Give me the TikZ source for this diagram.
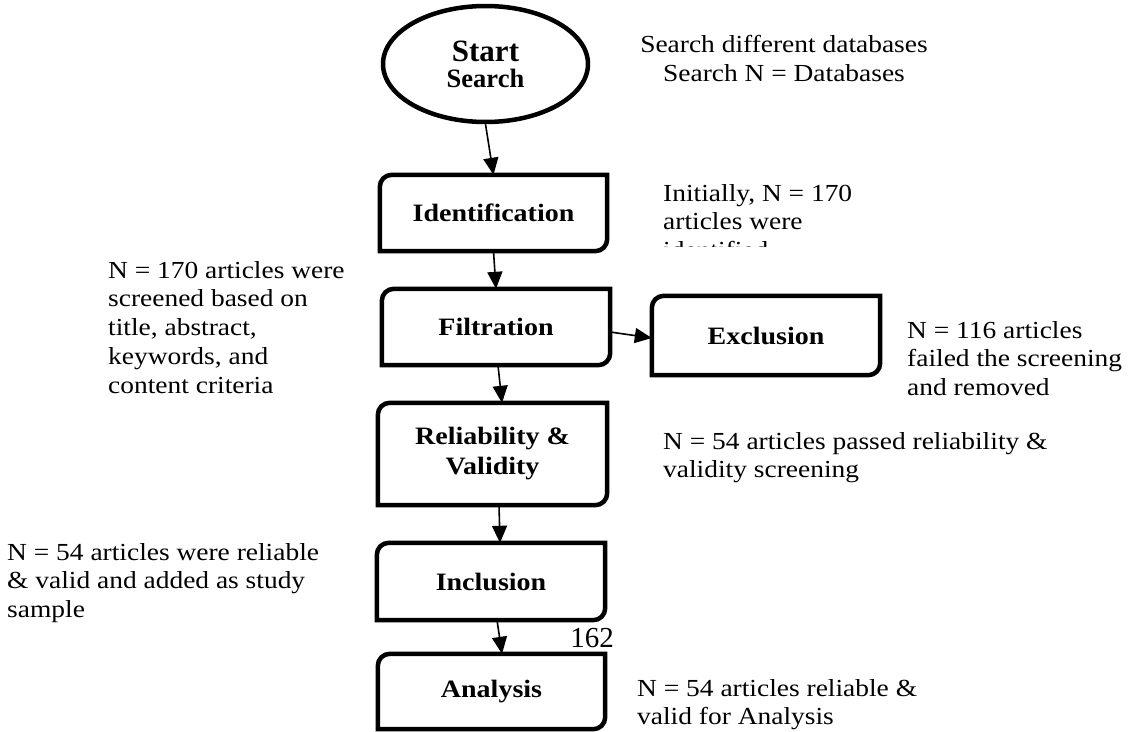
\documentclass[tikz,border=0pt]{standalone}
\usepackage{fontspec}
\setmainfont{Liberation Serif}
\newfontfamily\notefam[FakeStretch=1.12]{Liberation Serif}
\newfontfamily\timesfam{Liberation Serif}
\usetikzlibrary{arrows.meta,shapes.geometric}

\tikzset{
  boxline/.style={line width=4.5pt, line join=miter},
  stepbox/.style={rectangle, inner sep=0pt, align=center,
    font=\notefam\bfseries\fontsize{25}{30}\selectfont},
  note/.style={anchor=north west, inner sep=0pt, align=left,
    font=\notefam\fontsize{24.5}{28.7}\selectfont},
  conn/.style={line width=1.6pt, -{Triangle[length=17pt,width=15pt]}},
}
\newcommand\rdframe[1]{%
  \draw[boxline] (#1.north east) -- ([yshift=12pt]#1.south east)
    arc[start angle=0,end angle=-90,radius=12pt] -- (#1.south west)
    -- ([yshift=-12pt]#1.north west)
    arc[start angle=180,end angle=90,radius=12pt] -- cycle;}

\begin{document}
\begin{tikzpicture}[x=1pt,y=1pt]
\useasboundingbox (0,0) rectangle (1132,-731);

% start ellipse
\node[ellipse, draw, line width=4.5pt, minimum width=205pt, minimum height=116pt,
  inner sep=0pt, align=center, font=\timesfam\bfseries\fontsize{26.5}{26}\selectfont]
  (start) at (485.5,-64)
  {{\fontsize{31}{26}\selectfont Start}\\Search};

% process boxes
\node[stepbox, minimum width=227pt, minimum height=76pt]  (ident) at (493.5,-213) {Identification};
\node[stepbox, minimum width=228pt, minimum height=76pt]  (filt)  at (496,-327)   {Filtration};
\node[stepbox, minimum width=228pt, minimum height=79pt]  (excl)  at (766,-335.5) {Exclusion};
\node[stepbox, minimum width=229pt, minimum height=102pt] (rel)   at (492.5,-454) {Reliability \&\\Validity};
\node[stepbox, minimum width=228pt, minimum height=77pt]  (incl)  at (491,-581.5) {Inclusion};
\node[stepbox, minimum width=227pt, minimum height=75pt]  (anal)  at (491.5,-691.5) {Analysis};
\rdframe{ident}
\rdframe{filt}
\rdframe{excl}
\rdframe{rel}
\rdframe{incl}
\rdframe{anal}

% connectors
\draw[conn] (start.south) -- (ident.north);
\draw[conn] (ident.south) -- (filt.north);
\draw[conn] ([yshift=-5pt]filt.east) -- ([yshift=-2.5pt]excl.west);
\draw[conn] ([xshift=2pt]filt.south) -- ([xshift=9.5pt]rel.north);
\draw[conn] ([xshift=6.5pt]rel.south) -- ([xshift=9pt]incl.north);
\draw[conn] ([xshift=6pt]incl.south) -- ([xshift=10.5pt]anal.north);

% page number
\node[inner sep=0pt, font=\timesfam\fontsize{29}{30}\selectfont] (pg) at (592,-638) {162};

% notes
\node[note, anchor=north, align=center] (nsearch) at (784,-35)
  {Search different databases\\Search N = Databases};
\begin{scope}
  \clip (600,-170) rectangle (1000,-246);
  \node[note] (nident) at (663,-184) {Initially, N = 170\\articles were\\identified};
\end{scope}
\node[note] (nfilt) at (108,-261)
  {N = 170 articles were\\screened based on\\title, abstract,\\keywords, and\\content criteria};
\node[note] (nexcl) at (907,-321)
  {N = 116 articles\\failed the screening\\and removed};
\node[note] (nrel) at (663,-432)
  {N = 54 articles passed reliability \&\\validity screening};
\node[note] (nincl) at (7,-543)
  {N = 54 articles were reliable\\\& valid and added as study\\sample};
\node[note] (nanal) at (637,-679)
  {N = 54 articles reliable \&\\valid for Analysis};
\end{tikzpicture}
\end{document}
